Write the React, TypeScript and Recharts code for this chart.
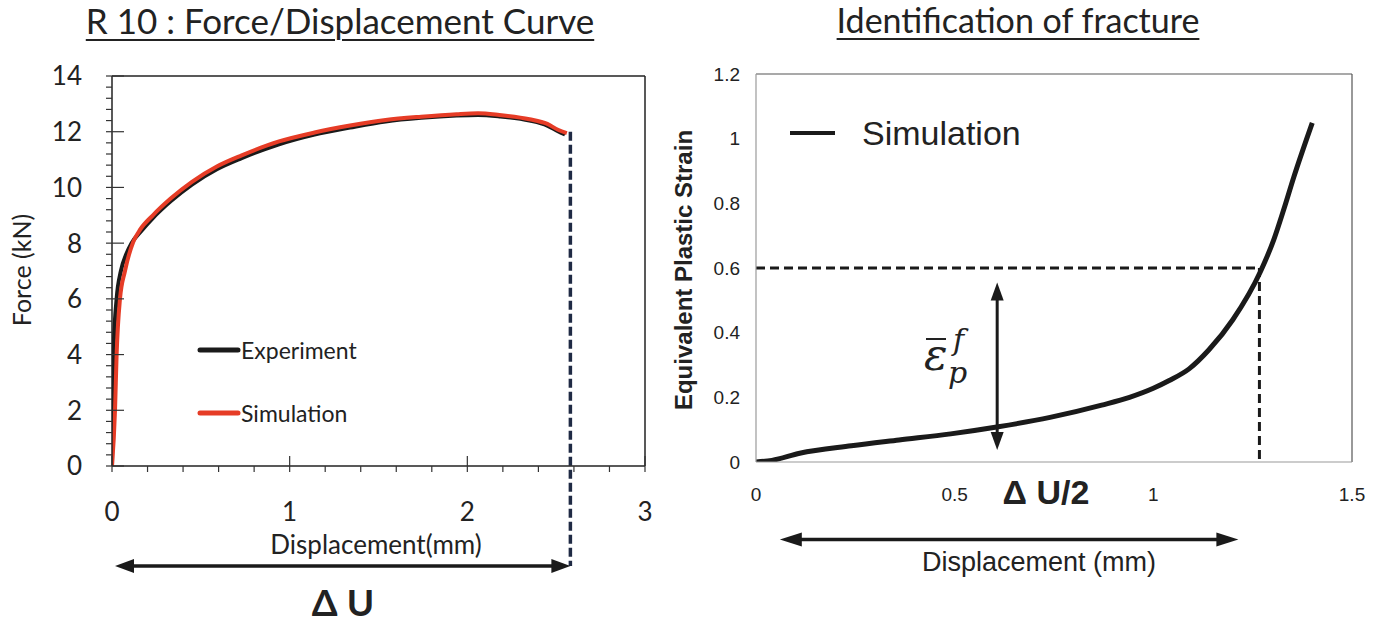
import React from 'react';
import { LineChart, Line, XAxis, YAxis, ReferenceLine, Legend } from 'recharts';

// ---------- Left chart: R 10 Force / Displacement ----------
const experimentDisplacement = [0, 0.004, 0.008, 0.026, 0.05, 0.08, 0.11, 0.16, 0.23, 0.33, 0.45, 0.59, 0.73, 0.94, 1.14, 1.34, 1.54, 1.74, 1.94, 2.06, 2.18, 2.35, 2.45, 2.51, 2.55];
const experimentForce = [0, 2, 4, 6, 7, 7.6, 8.0, 8.4, 8.9, 9.5, 10.1, 10.65, 11.05, 11.55, 11.9, 12.15, 12.37, 12.5, 12.58, 12.6, 12.55, 12.4, 12.22, 12.02, 11.9];
const simulationDisplacement = [0, 0.017, 0.026, 0.045, 0.073, 0.12, 0.16, 0.23, 0.33, 0.45, 0.59, 0.73, 0.94, 1.14, 1.34, 1.54, 1.74, 1.94, 2.06, 2.18, 2.35, 2.45, 2.51, 2.56];
const simulationForce = [0, 2, 4, 6, 7, 8.05, 8.5, 9.0, 9.6, 10.2, 10.75, 11.15, 11.65, 11.97, 12.22, 12.42, 12.54, 12.63, 12.66, 12.6, 12.45, 12.28, 12.07, 11.95];

const dispMajorTicks = [0, 1, 2, 3];
const dispTicks = [0, 0.2, 0.4, 0.6, 0.8, 1, 1.2, 1.4, 1.6, 1.8, 2, 2.2, 2.4, 2.6, 2.8, 3];
const forceMajorTicks = [0, 2, 4, 6, 8, 10, 12, 14];
const forceTicks = [0, 0.4, 0.8, 1.2, 1.6, 2, 2.4, 2.8, 3.2, 3.6, 4, 4.4, 4.8, 5.2, 5.6, 6, 6.4, 6.8, 7.2, 7.6, 8, 8.4, 8.8, 9.2, 9.6, 10, 10.4, 10.8, 11.2, 11.6, 12, 12.4, 12.8, 13.2, 13.6, 14];

const fractureDisplacement = 2.58;
const fractureForce = 12;
const arrowLevelLeft = -3.59;

// ---------- Right chart: Identification of fracture ----------
const strainDisplacement = [0, 0.04, 0.11, 0.24, 0.36, 0.49, 0.61, 0.74, 0.87, 0.94, 1.0, 1.04, 1.09, 1.14, 1.2, 1.27, 1.303, 1.328, 1.354, 1.4];
const plasticStrain = [0, 0.005, 0.027, 0.05, 0.068, 0.087, 0.109, 0.138, 0.176, 0.2, 0.228, 0.252, 0.288, 0.347, 0.44, 0.59, 0.687, 0.78, 0.883, 1.049];
const strainXTicks = [0, 0.5, 1, 1.5];
const strainYTicks = [0, 0.2, 0.4, 0.6, 0.8, 1, 1.2];

const fractureStrain = 0.6;
const halfDisplacement = 1.267;
const epsArrowX = 0.607;
const epsArrowTop = 0.555;
const epsArrowBottom = 0.037;
const arrowLevelRight = -0.24;
const arrowRightStart = 0.06;
const arrowRightEnd = 1.214;

const zip = (xs: number[], ys: number[]) => xs.map((x, i) => ({ x, y: ys[i] }));
const experimentData = zip(experimentDisplacement, experimentForce);
const simulationData = zip(simulationDisplacement, simulationForce);
const strainData = zip(strainDisplacement, plasticStrain);

const LEFT_FONT = 'Lato, "Open Sans", sans-serif';
const RIGHT_FONT = '"Liberation Sans", Arial, sans-serif';

const LeftXTick = (props: any) => {
  const { x, y, payload } = props;
  const v = payload.value;
  const major = dispMajorTicks.includes(v);
  return (
    <g>
      <line x1={x} x2={x} y1={major ? y - 10 : y} y2={y + 6} stroke="#333" strokeWidth={1.2} />
      {major && (
        <text x={x} y={y + 55} textAnchor="middle" fontSize={26} fontFamily={LEFT_FONT} fill="#222">
          {v}
        </text>
      )}
    </g>
  );
};

const LeftYTick = (props: any) => {
  const { x, y, payload } = props;
  const v = payload.value;
  const major = forceMajorTicks.includes(v);
  return (
    <g>
      <line x1={x - 6} x2={major ? x + 12 : x} y1={y} y2={y} stroke="#333" strokeWidth={1.2} />
      {major && (
        <text x={x - 30} y={y} dy="0.36em" textAnchor="end" fontSize={26} fontFamily={LEFT_FONT} fill="#222">
          {v}
        </text>
      )}
    </g>
  );
};

const makeArrow = (L: number, W: number) => (props: any) => {
  const { x1, y1, x2, y2, stroke, strokeWidth } = props;
  const dx = x2 - x1;
  const dy = y2 - y1;
  const len = Math.hypot(dx, dy) || 1;
  const ux = dx / len;
  const uy = dy / len;
  const nx = -uy;
  const ny = ux;
  const head = (tx: number, ty: number, dir: number) => {
    const bx = tx - dir * ux * L;
    const by = ty - dir * uy * L;
    return `${tx},${ty} ${bx + nx * W},${by + ny * W} ${bx - nx * W},${by - ny * W}`;
  };
  return (
    <g>
      <line
        x1={x1 + ux * L * 0.8}
        y1={y1 + uy * L * 0.8}
        x2={x2 - ux * L * 0.8}
        y2={y2 - uy * L * 0.8}
        stroke={stroke}
        strokeWidth={strokeWidth}
      />
      <polygon points={head(x1, y1, -1)} fill={stroke} />
      <polygon points={head(x2, y2, 1)} fill={stroke} />
    </g>
  );
};

const LeftLegend = (props: any) => {
  const { payload } = props;
  return (
    <div style={{ fontFamily: LEFT_FONT, fontSize: 23, color: '#222' }}>
      {(payload || []).map((e: any) => (
        <div key={e.value} style={{ display: 'flex', alignItems: 'center', height: 63 }}>
          <svg width={44} height={10} style={{ display: 'block' }}>
            <line x1={3} x2={41} y1={5} y2={5} stroke={e.color} strokeWidth={5} strokeLinecap="round" />
          </svg>
          <span style={{ lineHeight: '26px' }}>{e.value}</span>
        </div>
      ))}
    </div>
  );
};

const RightLegend = (props: any) => {
  const { payload } = props;
  return (
    <div style={{ fontFamily: RIGHT_FONT, fontSize: 34, color: '#222' }}>
      {(payload || []).map((e: any) => (
        <div key={e.value} style={{ display: 'flex', alignItems: 'center', height: 40 }}>
          <svg width={72} height={10} style={{ display: 'block' }}>
            <line x1={0} x2={45} y1={5} y2={5} stroke={e.color} strokeWidth={4} />
          </svg>
          <span style={{ lineHeight: '38px' }}>{e.value}</span>
        </div>
      ))}
    </div>
  );
};

const titleStyle = (center: number, size: number): React.CSSProperties => ({
  position: 'absolute',
  left: center - 300,
  width: 600,
  top: 0,
  textAlign: 'center',
  fontFamily: LEFT_FONT,
  fontSize: size,
  lineHeight: '40px',
  color: '#222',
  textDecoration: 'underline',
  textUnderlineOffset: '5px',
  textDecorationThickness: '2px',
});

export default function App() {
  return (
    <div style={{ position: 'absolute', left: 0, top: 0, width: 1375, height: 626, background: '#fff', overflow: 'hidden' }}>
      <div style={titleStyle(340, 35)}>R 10 : Force/Displacement Curve</div>
      <div style={titleStyle(1018, 34)}>Identification of fracture</div>

      <div style={{ position: 'absolute', left: 0, top: 0 }}>
        <LineChart width={680} height={626} margin={{ top: 76, right: 35, left: 0, bottom: 0 }}>
          <XAxis
            type="number"
            dataKey="x"
            domain={[0, 3]}
            ticks={dispTicks}
            interval={0}
            tickSize={0}
            tickMargin={0}
            tickLine={false}
            tick={<LeftXTick />}
            height={160}
            axisLine={{ stroke: '#222', strokeWidth: 1.5 }}
            allowDataOverflow
          />
          <YAxis
            type="number"
            domain={[0, 14]}
            ticks={forceTicks}
            interval={0}
            tickSize={0}
            tickMargin={0}
            tickLine={false}
            tick={<LeftYTick />}
            width={112}
            axisLine={{ stroke: '#222', strokeWidth: 1.5 }}
            allowDataOverflow
          />
          <ReferenceLine y={14} stroke="#222" strokeWidth={1.5} />
          <ReferenceLine x={3} stroke="#222" strokeWidth={1.5} />
          <Legend
            layout="horizontal"
            verticalAlign="middle"
            align="center"
            content={<LeftLegend />}
            wrapperStyle={{ left: 197, top: 318, width: 220, height: 126 }}
          />
          <Line
            name="Experiment"
            data={experimentData}
            dataKey="y"
            type="monotone"
            stroke="#1a1a1a"
            strokeWidth={4}
            dot={false}
            isAnimationActive={false}
          />
          <Line
            name="Simulation"
            data={simulationData}
            dataKey="y"
            type="monotone"
            stroke="#e63c26"
            strokeWidth={4}
            dot={false}
            isAnimationActive={false}
          />
          <ReferenceLine
            segment={[
              { x: fractureDisplacement, y: fractureForce },
              { x: fractureDisplacement, y: arrowLevelLeft },
            ]}
            ifOverflow="visible"
            stroke="#1f2a44"
            strokeWidth={3.5}
            strokeDasharray="9 4"
          />
          <ReferenceLine
            segment={[
              { x: 0.017, y: arrowLevelLeft },
              { x: fractureDisplacement, y: arrowLevelLeft },
            ]}
            ifOverflow="visible"
            stroke="#1a1a1a"
            strokeWidth={3.5}
            shape={makeArrow(19, 7)}
          />
        </LineChart>
      </div>

      <div style={{ position: 'absolute', left: 680, top: 0 }}>
        <LineChart width={695} height={626} margin={{ top: 74, right: 23, left: 0, bottom: 0 }}>
          <XAxis
            type="number"
            dataKey="x"
            domain={[0, 1.5]}
            ticks={strainXTicks}
            interval={0}
            tickSize={0}
            tickMargin={26}
            tickLine={false}
            tick={{ fontSize: 19, fontFamily: RIGHT_FONT, fill: '#222' }}
            height={164}
            axisLine={{ stroke: '#9a9a9a', strokeWidth: 1.2 }}
            allowDataOverflow
          />
          <YAxis
            type="number"
            domain={[0, 1.2]}
            ticks={strainYTicks}
            interval={0}
            tickSize={0}
            tickMargin={16}
            tickLine={false}
            tick={{ fontSize: 19, fontFamily: RIGHT_FONT, fill: '#222' }}
            width={76}
            axisLine={{ stroke: '#9a9a9a', strokeWidth: 1.2 }}
            allowDataOverflow
          />
          <ReferenceLine y={1.2} stroke="#555" strokeWidth={1.2} />
          <ReferenceLine x={1.5} stroke="#555" strokeWidth={1.2} />
          <Legend
            layout="horizontal"
            verticalAlign="middle"
            align="center"
            content={<RightLegend />}
            wrapperStyle={{ left: 110, top: 113, width: 320, height: 40 }}
          />
          <Line
            name="Simulation"
            data={strainData}
            dataKey="y"
            type="monotone"
            stroke="#1a1a1a"
            strokeWidth={5}
            dot={false}
            isAnimationActive={false}
          />
          <ReferenceLine
            segment={[
              { x: 0, y: fractureStrain },
              { x: halfDisplacement, y: fractureStrain },
            ]}
            stroke="#1a1a1a"
            strokeWidth={3}
            strokeDasharray="9 5"
          />
          <ReferenceLine
            segment={[
              { x: halfDisplacement, y: fractureStrain },
              { x: halfDisplacement, y: 0 },
            ]}
            stroke="#1a1a1a"
            strokeWidth={3}
            strokeDasharray="9 5"
          />
          <ReferenceLine
            segment={[
              { x: epsArrowX, y: epsArrowTop },
              { x: epsArrowX, y: epsArrowBottom },
            ]}
            stroke="#1a1a1a"
            strokeWidth={3}
            shape={makeArrow(18, 6.5)}
          />
          <ReferenceLine
            segment={[
              { x: arrowRightStart, y: arrowLevelRight },
              { x: arrowRightEnd, y: arrowLevelRight },
            ]}
            ifOverflow="visible"
            stroke="#1a1a1a"
            strokeWidth={3.5}
            shape={makeArrow(22, 7)}
          />
        </LineChart>
      </div>

      <svg
        width={1375}
        height={626}
        style={{ position: 'absolute', left: 0, top: 0, pointerEvents: 'none' }}
      >
        {/* left axis titles */}
        <text
          x={22}
          y={270}
          transform="rotate(-90 22 270)"
          textAnchor="middle"
          dy="0.36em"
          fontSize={25}
          fontFamily={LEFT_FONT}
          fill="#222"
        >
          Force (kN)
        </text>
        <text x={376} y={554} textAnchor="middle" fontSize={26} fontFamily={LEFT_FONT} fill="#222">
          Displacement(mm)
        </text>
        <text x={343} y={616} textAnchor="middle" fontSize={37} fontWeight="bold" fontFamily={LEFT_FONT} fill="#222">
          Δ U
        </text>

        {/* right axis titles */}
        <text
          x={683}
          y={270}
          transform="rotate(-90 683 270)"
          textAnchor="middle"
          dy="0.36em"
          fontSize={24}
          fontWeight="bold"
          fontFamily={RIGHT_FONT}
          fill="#222"
        >
          Equivalent Plastic Strain
        </text>
        <text x={1039} y={571} textAnchor="middle" fontSize={27} fontFamily={RIGHT_FONT} fill="#222">
          Displacement (mm)
        </text>
        <text x={1046} y={504} textAnchor="middle" fontSize={34} fontWeight="bold" fontFamily={RIGHT_FONT} fill="#222">
          Δ U/2
        </text>

        {/* epsilon bar p f */}
        <line x1={926} x2={946} y1={339} y2={339} stroke="#222" strokeWidth={2} />
        <text x={924} y={370} fontSize={44} fontStyle="italic" fontFamily='"DejaVu Serif", "Liberation Serif", serif' fill="#222">
          ε
        </text>
        <text x={953} y={350} fontSize={30} fontStyle="italic" fontFamily='"DejaVu Serif", "Liberation Serif", serif' fill="#222">
          f
        </text>
        <text x={948} y={383} fontSize={30} fontStyle="italic" fontFamily='"DejaVu Serif", "Liberation Serif", serif' fill="#222">
          p
        </text>
      </svg>
    </div>
  );
}
